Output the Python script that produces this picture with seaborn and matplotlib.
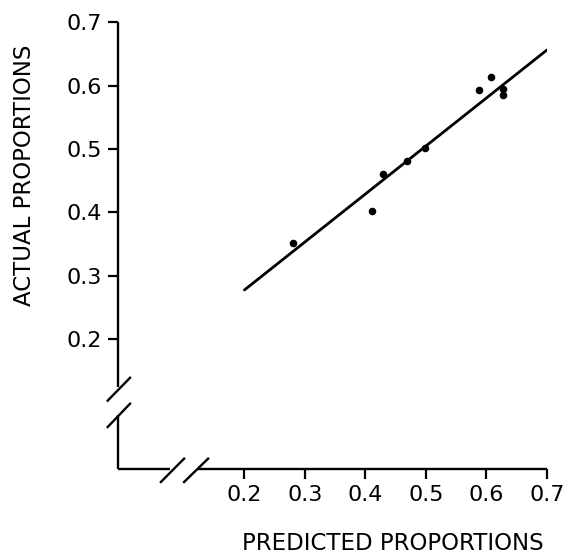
import matplotlib
matplotlib.use("Agg")
import matplotlib.pyplot as plt
import seaborn as sns
import pandas as pd

# Data
predicted = [0.280, 0.410, 0.429, 0.469, 0.498, 0.587, 0.608, 0.627, 0.628]
actual = [0.352, 0.402, 0.461, 0.481, 0.501, 0.593, 0.614, 0.594, 0.585]
fit_x = [0.2, 0.7]
fit_y = [0.278, 0.656]
tick_values = [0.2, 0.3, 0.4, 0.5, 0.6, 0.7]
tick_labels = ["0.2", "0.3", "0.4", "0.5", "0.6", "0.7"]

sns.set_theme(style="white")
plt.rcParams["font.family"] = ["DejaVu Sans"]

pts = pd.DataFrame({"predicted": predicted, "actual": actual})
fit = pd.DataFrame({"x": fit_x, "y": fit_y})

fig = plt.figure(figsize=(5.69, 5.56), dpi=100)
ax = fig.add_axes([0.2074, 0.1565, 0.7539, 0.8039])

sns.lineplot(data=fit, x="x", y="y", ax=ax, color="black", linewidth=2.0)
sns.scatterplot(data=pts, x="predicted", y="actual", ax=ax, color="black",
                s=30, edgecolor="black", linewidth=0, zorder=3)

ax.set_xlim(-0.009, 0.7)
ax.set_ylim(-0.004, 0.7)
ax.set_xticks(tick_values)
ax.set_xticklabels(tick_labels)
ax.set_yticks(tick_values)
ax.set_yticklabels(tick_labels)
ax.tick_params(axis="both", direction="out", length=7.5, width=1.6,
               color="black", labelsize=16, labelcolor="black", pad=4,
               bottom=True, left=True)

for sp in ax.spines.values():
    sp.set_visible(False)

# axis lines with break marks (decoration, axes coordinates)
lw = 1.7
kw = dict(transform=ax.transAxes, color="black", linewidth=lw, clip_on=False,
          solid_capstyle="butt")
ax.plot([0, 0], [1.0, 0.184], **kw)
ax.plot([0, 0], [0.121, 0.0], **kw)
ax.plot([-0.026, 0.030], [0.151, 0.206], **kw)
ax.plot([-0.026, 0.030], [0.092, 0.148], **kw)
ax.plot([0, 0.121], [0, 0], **kw)
ax.plot([0.186, 1.0], [0, 0], **kw)
ax.plot([0.098, 0.156], [-0.031, 0.025], **kw)
ax.plot([0.152, 0.212], [-0.031, 0.025], **kw)

ax.set_xlabel("PREDICTED PROPORTIONS", fontsize=16.5, color="black")
ax.set_ylabel("ACTUAL PROPORTIONS", fontsize=16.5, color="black")
ax.xaxis.label.set_va("center")
ax.yaxis.label.set_va("center")
ax.xaxis.set_label_coords(0.64, -0.166)
ax.yaxis.set_label_coords(-0.217, 0.658)

fig.savefig("out.png", dpi=100)
